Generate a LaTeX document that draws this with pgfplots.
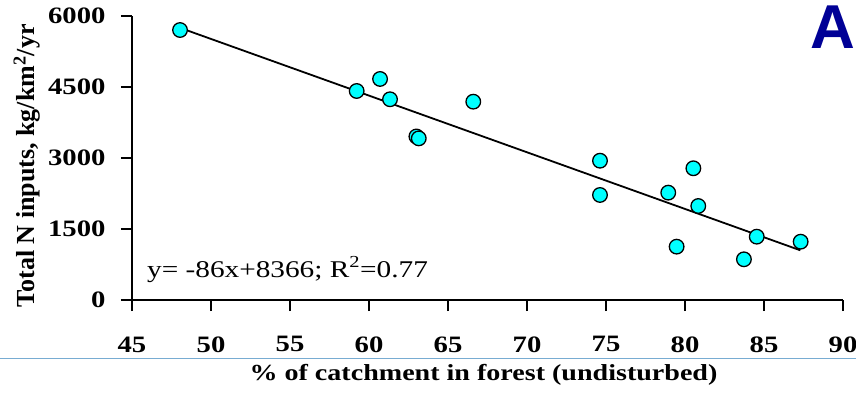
\documentclass[border=0pt]{standalone}
\usepackage{fontspec}
\usepackage{pgfplots}
\pgfplotsset{compat=1.18}
\newfontfamily\tnr{Liberation Serif}[FakeStretch=1.22]
\newfontfamily\tnrplain{Liberation Serif}
\newfontfamily\arialb{Liberation Sans}
\definecolor{ptcyan}{RGB}{0,255,255}
\definecolor{lblue}{RGB}{120,172,210}
\definecolor{dblue}{RGB}{0,0,150}
\begin{document}
\begin{tikzpicture}
\path[use as bounding box] (-132pt,-92pt) rectangle (724pt,300pt);
\begin{axis}[
  at={(0pt,0pt)}, anchor=south west,
  scale only axis, width=711pt, height=284pt,
  xmin=45, xmax=90, ymin=0, ymax=6000,
  axis x line*=bottom, axis y line*=left,
  axis line style={black, line width=2.2pt,-},
  xtick={45,50,...,90}, ytick={0,1500,3000,4500,6000},
  tick align=outside, major tick length=11pt,
  tick style={black, line width=2pt},
  scaled y ticks=false,
  /pgf/number format/assume math mode=true,
  /pgf/number format/1000 sep={},
  tick label style={font=\tnr\bfseries\fontsize{23.5}{23.5}\selectfont},
  xticklabel style={yshift=-22pt},
  yticklabel style={xshift=-12pt},
  clip=false,
]
\addplot[only marks, mark=*, mark size=7.3pt,
  mark options={fill=ptcyan, draw=black, line width=1.3pt}] coordinates {
(48.04,5704) (59.22,4416) (60.70,4670) (61.33,4241) (63.00,3455) (63.15,3415)
(66.6,4190) (74.62,2943) (74.62,2219) (78.94,2268) (79.47,1127) (80.53,2783)
(80.84,1986) (83.73,860) (84.54,1338) (87.32,1232)
};
\addplot[black, line width=1.8pt, no marks] coordinates {(48.04,5750) (87.3,1050)};
\end{axis}
\node[anchor=base west, inner sep=0pt] at (15pt,23pt)
  {\tnr\fontsize{24}{24}\selectfont y= -86x+8366; R\textsuperscript{2}=0.77};
\node[anchor=base, inner sep=0pt] at (351.5pt,-80pt)
  {\tnr\bfseries\fontsize{23}{23}\selectfont \% of catchment in forest (undisturbed)};
\node[rotate=90, anchor=center, inner sep=0pt] at (-105pt,134pt)
  {\tnrplain\bfseries\fontsize{26}{26}\selectfont Total N inputs, kg/km\textsuperscript{2}/yr};
\node[anchor=north west, inner sep=0pt] at (678pt,294pt)
  {\arialb\bfseries\color{dblue}\fontsize{62}{62}\selectfont A};
\draw[lblue, line width=1pt] (-132pt,-58pt) -- (724pt,-58pt);
\end{tikzpicture}
\end{document}
